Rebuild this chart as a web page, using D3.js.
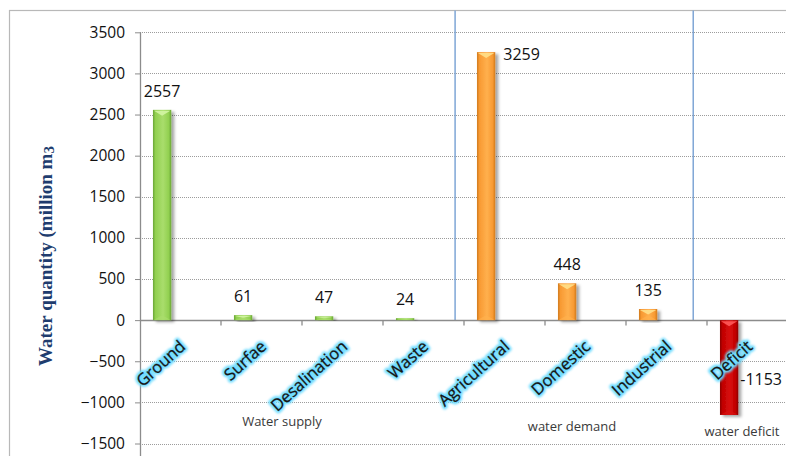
<!DOCTYPE html>
<html>
<head>
<meta charset="utf-8">
<script src="https://cdn.jsdelivr.net/npm/d3@7"></script>
<style>
  html, body { margin: 0; padding: 0; background: #fff; }
  svg { display: block; }
</style>
</head>
<body>
<svg id="chart" width="786" height="456"></svg>
<script>
// Water balance: supply sources, demand sectors and resulting deficit (million m3)
const categories = ["Ground", "Surfae", "Desalination", "Waste", "Agricultural", "Domestic", "Industrial", "Deficit"];
const values = [2557, 61, 47, 24, 3259, 448, 135, -1153];
const groupOfCategory = [0, 0, 0, 0, 1, 1, 1, 2];
const groupNames = ["Water supply", "water demand", "water deficit"];
const yTickValues = [-1500, -1000, -500, 0, 500, 1000, 1500, 2000, 2500, 3000, 3500];
const yTitle = "Water quantity (million m";
const yTitleSup = "3";

const svg = d3.select("#chart");
const W = 786, H = 456;

const plot = { left: 140, right: 788, top: 32.3, bottom: 443.5 };

const x = d3.scaleBand().domain(categories).range([plot.left, plot.right]).padding(0);
const y = d3.scaleLinear().domain([-1500, 3500]).range([plot.bottom, plot.top]);
const bw = x.bandwidth();

// bar colour sets per group: edge, main, light, highlight
const palettes = [
  { edge: "#6aa536", main: "#92d050", light: "#a9dd6c", hi: "#d4f5a4" },
  { edge: "#d07a1c", main: "#f89a33", light: "#ffb04d", hi: "#ffe08a" },
  { edge: "#8a0000", main: "#c00000", light: "#d81010", hi: "#ff5a5a" }
];

const defs = svg.append("defs");

palettes.forEach((p, i) => {
  const g = defs.append("linearGradient").attr("id", "barGrad" + i)
    .attr("x1", "0").attr("x2", "1").attr("y1", "0").attr("y2", "0");
  g.append("stop").attr("offset", "0").attr("stop-color", p.edge);
  g.append("stop").attr("offset", "0.14").attr("stop-color", p.main);
  g.append("stop").attr("offset", "0.55").attr("stop-color", p.light);
  g.append("stop").attr("offset", "0.86").attr("stop-color", p.main);
  g.append("stop").attr("offset", "1").attr("stop-color", p.edge);
});

const shadow = defs.append("filter").attr("id", "barShadow")
  .attr("x", "-50%").attr("y", "-10%").attr("width", "200%").attr("height", "130%");
shadow.append("feDropShadow").attr("dx", 3).attr("dy", 2)
  .attr("stdDeviation", 1.8).attr("flood-color", "#000").attr("flood-opacity", 0.35);

// soft blur used for the halo under the category names
defs.append("filter").attr("id", "haloBlur")
  .attr("x", "-20%").attr("y", "-60%").attr("width", "140%").attr("height", "220%")
  .append("feGaussianBlur").attr("stdDeviation", 1.3);

// outer frame
svg.append("rect").attr("x", 9.5).attr("y", 10.5).attr("width", 820).attr("height", 480)
  .attr("fill", "#fff").attr("stroke", "#b8b8b8").attr("stroke-width", 1.2);

// horizontal dotted gridlines
svg.append("g").selectAll("line").data(yTickValues.filter(v => v !== 0)).join("line")
  .attr("x1", plot.left).attr("x2", W)
  .attr("y1", d => Math.round(y(d)) + 0.5).attr("y2", d => Math.round(y(d)) + 0.5)
  .attr("stroke", "#9c9c9c").attr("stroke-width", 1).attr("stroke-dasharray", "1,1");

// group separators
const sepX = [x("Agricultural") - bw * 0.11, x("Deficit") - bw * 0.17];
svg.append("g").selectAll("line").data(sepX).join("line")
  .attr("x1", d => d).attr("x2", d => d)
  .attr("y1", 10.5).attr("y2", y(0))
  .attr("stroke", "#7fa6d6").attr("stroke-width", 1.5);

// y axis
const yAxis = d3.axisLeft(y).tickValues(yTickValues).tickSize(5).tickPadding(10).tickFormat(d3.format("d"));
const yG = svg.append("g").attr("transform", `translate(${plot.left},0)`).call(yAxis);
yG.select(".domain").remove();
yG.selectAll(".tick line").attr("stroke", "#8c8c8c");
yG.selectAll(".tick text").attr("fill", "#111")
  .style("font-family", "'Open Sans', sans-serif").style("font-size", "15.5px");
svg.append("line").attr("x1", plot.left + 0.5).attr("x2", plot.left + 0.5)
  .attr("y1", plot.top).attr("y2", H).attr("stroke", "#8c8c8c").attr("stroke-width", 1.3);

// x axis at zero with boundary ticks
const y0 = Math.round(y(0)) + 0.5;
svg.append("line").attr("x1", plot.left).attr("x2", W).attr("y1", y0).attr("y2", y0)
  .attr("stroke", "#8c8c8c").attr("stroke-width", 1.3);
svg.append("g").selectAll("line").data(categories.slice(1)).join("line")
  .attr("x1", d => x(d)).attr("x2", d => x(d))
  .attr("y1", y0).attr("y2", y0 + 5)
  .attr("stroke", "#8c8c8c").attr("stroke-width", 1.3);

// bars
const barOffset = bw * 0.16, barW = bw * 0.226;
const bars = svg.append("g").selectAll("g").data(values.map((v, i) => ({ v, i, c: categories[i], g: groupOfCategory[i] }))).join("g");

bars.each(function (d) {
  const g = d3.select(this);
  const p = palettes[d.g];
  const bx = x(d.c) + barOffset;
  const top = Math.min(y(d.v), y(0));
  const bot = Math.max(y(d.v), y(0));
  const h = bot - top;
  g.append("rect").attr("x", bx).attr("y", top).attr("width", barW).attr("height", h)
    .attr("fill", `url(#barGrad${d.g})`).attr("filter", "url(#barShadow)");
  const tri = Math.min(6, h / 2);
  g.append("path")
    .attr("d", `M${bx + 1},${top + 1} L${bx + barW - 1},${top + 1} L${bx + barW / 2},${top + tri} Z`)
    .attr("fill", p.hi).attr("opacity", 0.9);
  g.append("path")
    .attr("d", `M${bx + 1},${bot - 0.5} L${bx + barW - 1},${bot - 0.5} L${bx + barW / 2},${bot - Math.min(5, h / 2)} Z`)
    .attr("fill", p.light).attr("opacity", 0.7);
});

// value labels
const labelFont = "'Open Sans', sans-serif";
bars.append("text")
  .attr("x", d => {
    const bx = x(d.c) + barOffset;
    if (d.v > 3000) return bx + barW + 8;
    if (d.v < 0) return bx + barW + 2;
    return bx + barW / 2;
  })
  .attr("y", d => {
    if (d.v > 3000) return y(d.v) + 8;
    if (d.v < 0) return y(d.v) - 30;
    return y(d.v) - 13;
  })
  .attr("text-anchor", d => (d.v > 3000 || d.v < 0) ? "start" : "middle")
  .style("font-family", labelFont).style("font-size", "16px").attr("fill", "#111")
  .text(d => d.v);

// rotated category names: a blurred cyan halo, then the dark text on top
const catG = svg.append("g").selectAll("g").data(categories).join("g")
  .attr("transform", d => `translate(${x(d) + bw / 2 + 6},348) rotate(-42)`)
  .style("font-family", labelFont).style("font-size", "16.5px");
catG.append("text")
  .attr("text-anchor", "end")
  .attr("fill", "#7fe4ff").attr("stroke", "#6fdcff").attr("stroke-width", 4.5)
  .attr("stroke-linejoin", "round").attr("filter", "url(#haloBlur)")
  .text(d => d);
catG.append("text")
  .attr("text-anchor", "end")
  .attr("fill", "#151515").attr("stroke", "#151515").attr("stroke-width", 0.25)
  .text(d => d);

// group captions
const groupCaptionPos = [
  { cx: 282, y: 426 },
  { cx: 572, y: 431 },
  { cx: 742, y: 436 }
];
svg.append("g").selectAll("text").data(groupNames).join("text")
  .attr("x", (d, i) => groupCaptionPos[i].cx).attr("y", (d, i) => groupCaptionPos[i].y)
  .attr("text-anchor", "middle")
  .style("font-family", labelFont).style("font-size", "13px").attr("fill", "#3a3a3a")
  .text(d => d);

// y axis title
const t = svg.append("text")
  .attr("transform", "translate(52,256) rotate(-90)")
  .attr("text-anchor", "middle")
  .style("font-family", "'Liberation Serif', serif").style("font-size", "19px")
  .style("font-weight", "bold").attr("fill", "#203c6e");
t.append("tspan").text(yTitle);
t.append("tspan").attr("dy", 2).style("font-size", "15px").text(yTitleSup);
</script>
</body>
</html>
